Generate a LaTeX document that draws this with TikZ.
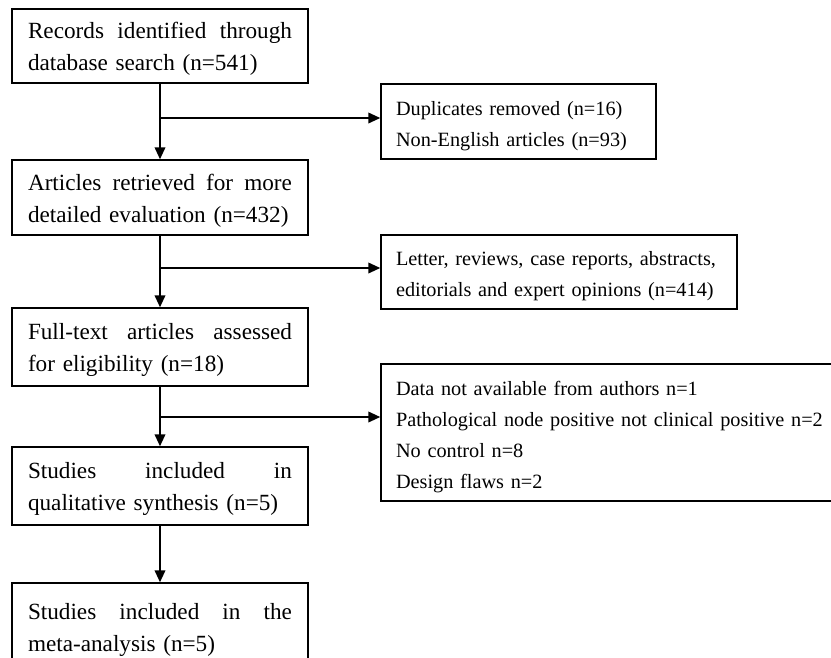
\documentclass[tikz,border=0pt]{standalone}
\usepackage{fontspec}
\setmainfont{Liberation Serif}
\usetikzlibrary{arrows.meta}
\newcommand{\topup}{\rule{0pt}{17pt}}
\tikzset{
  lbox/.style={draw, line width=1.1pt, font=\fontsize{17.4}{24}\selectfont, text width=198pt, inner xsep=12pt, inner ysep=0pt, align=left, anchor=center},
  rbox/.style={draw, line width=1.1pt, font=\fontsize{15.2}{23.3}\selectfont, inner xsep=11.25pt, inner ysep=0pt, align=left, anchor=center},
  arr/.style={line width=1.3pt, -{Triangle[length=9pt,width=8pt]}}
}
\begin{document}
\begin{tikzpicture}[x=0.75pt,y=-0.75pt]
\clip (0,0) rectangle (831,657);
\fill[white] (0,0) rectangle (831,657);
% left column
\node[lbox, minimum height=55.5pt] (b1) at (160,46)
  {\hbox to\hsize{\topup Records\hfill identified\hfill through}\\\mbox{database search (n=541)}};
\node[lbox, minimum height=56.25pt] (b2) at (160,197.5)
  {\hbox to\hsize{\topup Articles\hfill retrieved\hfill for\hfill more}\\\mbox{detailed evaluation (n=432)}};
\node[lbox, minimum height=58.5pt] (b3) at (160,347)
  {\hbox to\hsize{\topup Full-text\hfill articles\hfill assessed}\\\mbox{for eligibility (n=18)}};
\node[lbox, minimum height=58.5pt] (b4) at (160,486)
  {\hbox to\hsize{\topup Studies\hfill included\hfill in}\\\mbox{qualitative synthesis (n=5)}};
\node[lbox, minimum height=66pt] (b5) at (160,627)
  {\hbox to\hsize{\topup Studies\hfill included\hfill in\hfill the}\\\mbox{meta-analysis (n=5)}};
% right column
\node[rbox, text width=183.75pt, minimum height=56.25pt] (dup) at (518.5,121.5)
  {\mbox{\topup Duplicates removed (n=16)}\\\mbox{Non-English articles (n=93)}};
\node[rbox, text width=244.5pt, minimum height=55.5pt] (let) at (559,272)
  {\mbox{\topup Letter, reviews, case reports, abstracts,}\\\mbox{editorials and expert opinions (n=414)}};
\node[rbox, text width=330pt, minimum height=102.75pt] (dat) at (616,432.5)
  {\mbox{\topup Data not available from authors n=1}\\\mbox{Pathological node positive not clinical positive n=2}\\\mbox{No control n=8}\\\mbox{Design flaws n=2}};
% junctions
\coordinate (j1) at (160,118);
\coordinate (j2) at (160,268);
\coordinate (j3) at (160,417);
% connectors
\draw[arr] (b1.south) -- (b2.north);
\draw[arr] (b2.south) -- (b3.north);
\draw[arr] (b3.south) -- (b4.north);
\draw[arr] (b4.south) -- (b5.north);
\draw[arr] (j1) -- (j1 -| dup.west);
\draw[arr] (j2) -- (j2 -| let.west);
\draw[arr] (j3) -- (j3 -| dat.west);
\end{tikzpicture}
\end{document}
